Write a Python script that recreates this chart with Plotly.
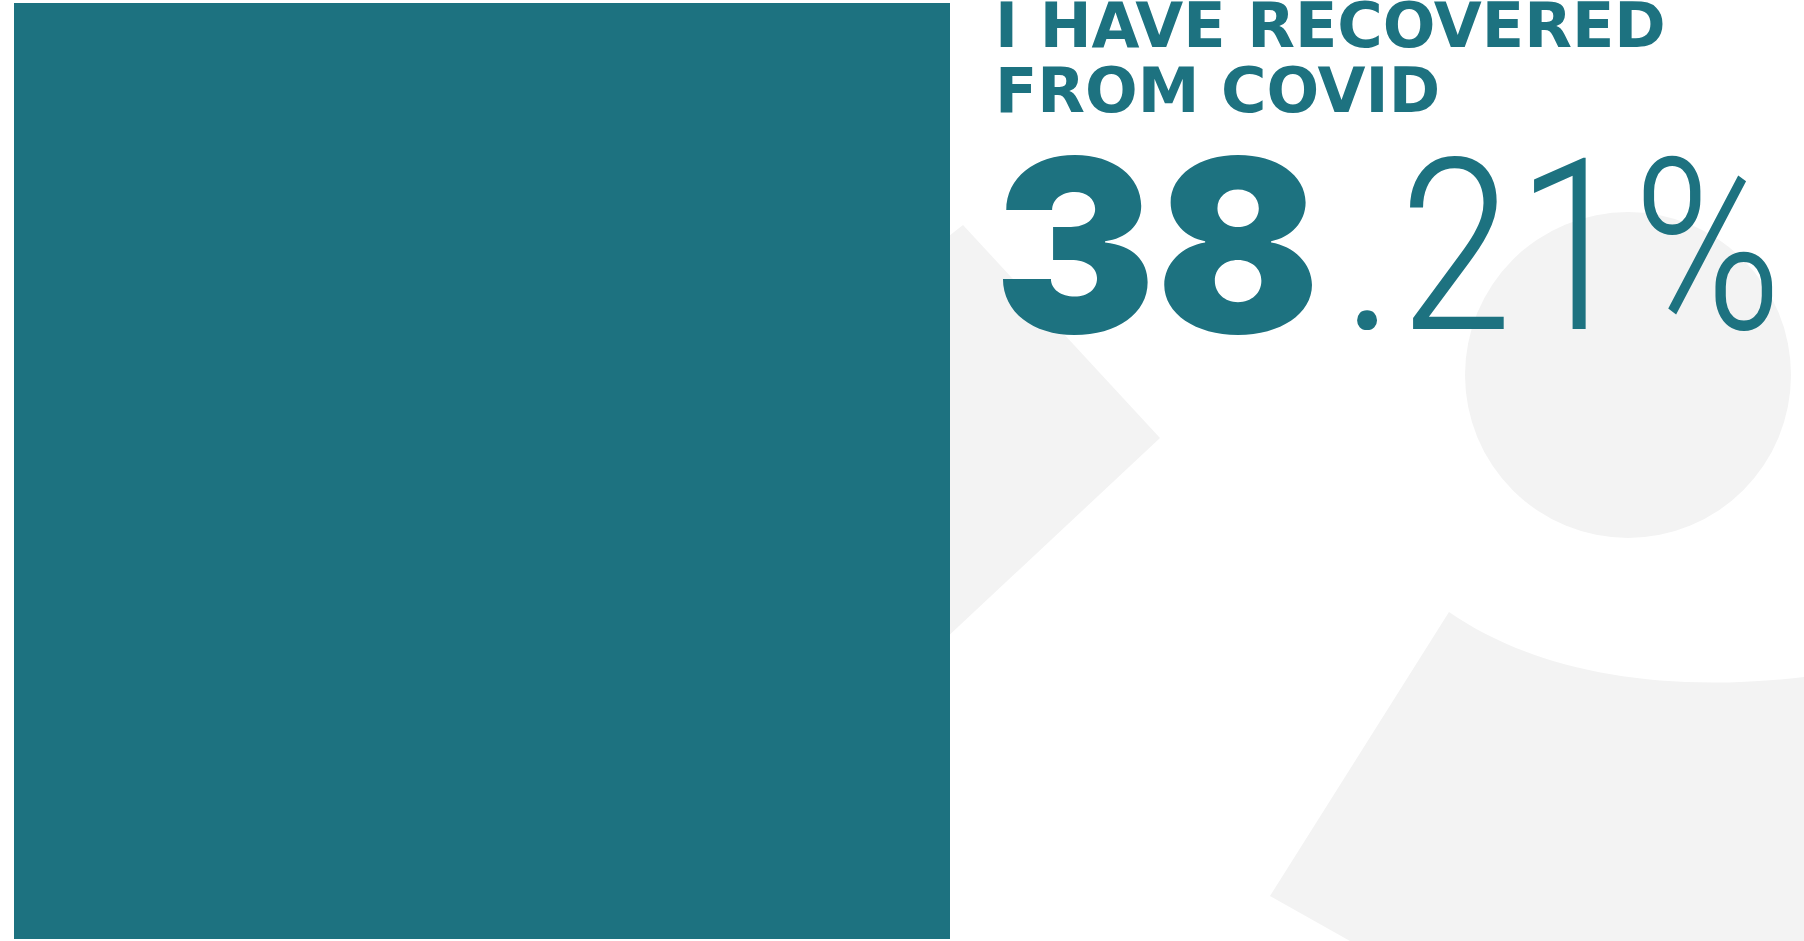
import plotly.graph_objects as go

# ---- data ----
title_lines = ["I HAVE RECOVERED", "FROM COVID"]
recovered_pct = 38.21
panel_total = [100]
panel_category = ["recovered"]

TEAL = "#1d7280"
GRAY = "#f3f3f3"
W, H = 1804, 941

int_part, dec_part = f"{recovered_pct:.2f}".split(".")


def px(x):
    return x / W


def py(y):
    return 1 - y / H


fig = go.Figure()

# teal panel as a bar on its own axis
fig.add_trace(go.Bar(
    x=panel_category, y=panel_total, width=1,
    marker=dict(color=TEAL, line=dict(width=0)),
    xaxis="x2", yaxis="y2", hoverinfo="skip", showlegend=False,
))

# background decorative shapes (pixel space axes)
shapes = [
    dict(type="path", path="M 880,290 L 963,225 L 1160,438 L 880,700 Z",
         fillcolor=GRAY, line=dict(width=0), layer="below", xref="x", yref="y"),
    dict(type="circle", x0=1465, x1=1791, y0=212, y1=538,
         fillcolor=GRAY, line=dict(width=0), layer="below", xref="x", yref="y"),
    dict(type="path",
         path="M 1270,896 L 1449,612 C 1530,668 1650,695 1804,677 L 1804,941 L 1350,941 Z",
         fillcolor=GRAY, line=dict(width=0), layer="below", xref="x", yref="y"),
]

annotations = []
title_size = 62
for line, box_top in zip(title_lines, [-12.9, 51.8]):
    annotations.append(dict(
        text=line, x=px(993), y=py(box_top),
        xref="paper", yref="paper", xanchor="left", yanchor="top", showarrow=False,
        font=dict(family="DejaVu Sans", size=title_size, color=TEAL, weight="bold"),
    ))

annotations.append(dict(
    text=int_part, x=px(992), y=py(97.2),
    xref="paper", yref="paper", xanchor="left", yanchor="top", showarrow=False,
    font=dict(family="Inter", size=242, color=TEAL, weight=900),
))
annotations.append(dict(
    text="." + dec_part + "%", x=px(1338), y=py(104.4),
    xref="paper", yref="paper", xanchor="left", yanchor="top", showarrow=False,
    font=dict(family="Roboto Condensed", size=240, color=TEAL, weight=300),
))

fig.update_layout(
    width=W, height=H,
    margin=dict(l=0, r=0, t=0, b=0),
    paper_bgcolor="white", plot_bgcolor="white",
    xaxis=dict(range=[0, W], visible=False, domain=[0, 1], fixedrange=True),
    yaxis=dict(range=[H, 0], visible=False, domain=[0, 1], fixedrange=True),
    xaxis2=dict(range=[-0.5, 0.5], visible=False, domain=[14 / W, 950 / W], anchor="y2"),
    yaxis2=dict(range=[0, 100], visible=False, domain=[(H - 939) / H, (H - 3) / H], anchor="x2"),
    shapes=shapes,
    annotations=annotations,
    bargap=0,
    showlegend=False,
)

fig.write_html("out.html", config={"displayModeBar": False},
               post_script="document.body.style.margin='0';")
